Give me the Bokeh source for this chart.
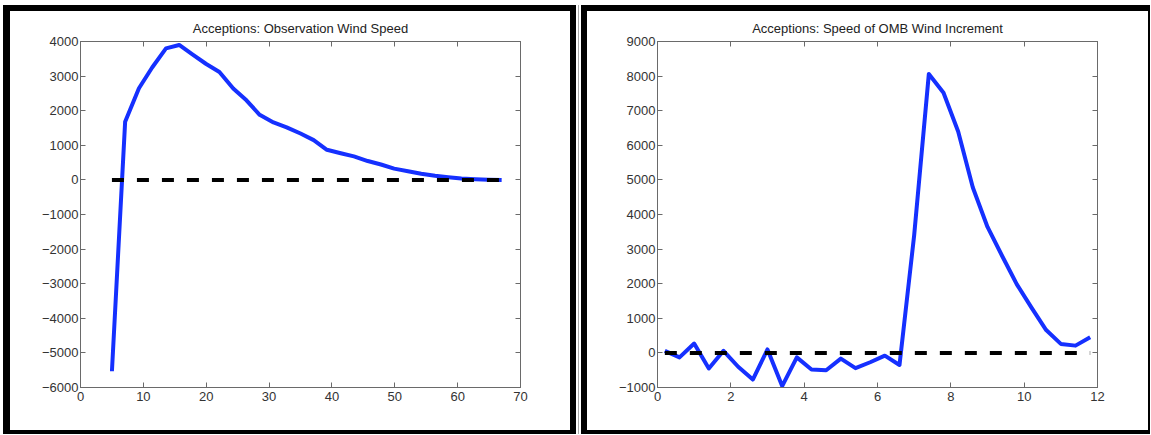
from bokeh.plotting import figure
from bokeh.layouts import row
from bokeh.models import LinearAxis, FixedTicker, CustomJSTickFormatter, Range1d
from bokeh.embed import file_html
from bokeh.resources import INLINE

# ---- Data: left panel (Observation Wind Speed) ----
obs_speed = [5.0, 7.1, 9.3, 11.4, 13.6, 15.7, 17.8, 20.0, 22.1, 24.3,
             26.4, 28.5, 30.7, 32.8, 35.0, 37.1, 39.2, 41.4, 43.5, 45.7,
             47.8, 49.9, 52.1, 54.2, 56.4, 58.5, 60.6, 62.8, 64.9, 67.0]
obs_accept = [-5530, 1680, 2650, 3250, 3800, 3900, 3630, 3350, 3120, 2640,
              2300, 1880, 1660, 1520, 1340, 1150, 870, 770, 680, 545,
              445, 325, 250, 178, 118, 78, 42, 20, 6, 0]

# ---- Data: right panel (Speed of OMB Wind Increment) ----
omb_speed = [0.2, 0.6, 1.0, 1.4, 1.8, 2.2, 2.6, 3.0, 3.4, 3.8,
             4.2, 4.6, 5.0, 5.4, 5.8, 6.2, 6.6, 7.0, 7.4, 7.8,
             8.2, 8.6, 9.0, 9.4, 9.8, 10.2, 10.6, 11.0, 11.4, 11.8]
omb_accept = [60, -130, 270, -450, 60, -400, -770, 100, -960, -130,
              -480, -500, -165, -440, -270, -80, -350, 3400, 8060, 7520,
              6400, 4780, 3640, 2800, 1980, 1310, 660, 260, 210, 450]

zero_level = 0

left_title = "Acceptions: Observation Wind Speed"
right_title = "Acceptions: Speed of OMB Wind Increment"
left_xticks = [0, 10, 20, 30, 40, 50, 60, 70]
left_yticks = [-6000, -5000, -4000, -3000, -2000, -1000, 0, 1000, 2000, 3000, 4000]
right_xticks = [0, 2, 4, 6, 8, 10, 12]
right_yticks = [-1000, 0, 1000, 2000, 3000, 4000, 5000, 6000, 7000, 8000, 9000]

FONT = "Liberation Sans"
AX_COL = "#6a6a6a"
TXT_COL = "#333333"
BLUE = "#1530ff"

minus_fmt = "return tick < 0 ? '\\u2212' + Math.abs(tick) : String(tick);"
blank_fmt = "return '';"


def style_axis(ax, ticks, labels=True, standoff=3):
    ax.ticker = FixedTicker(ticks=ticks)
    ax.major_tick_in = 5
    ax.major_tick_out = 0
    ax.minor_tick_line_color = None
    ax.axis_line_color = AX_COL
    ax.major_tick_line_color = AX_COL
    ax.major_label_text_font = FONT
    ax.major_label_text_font_size = "13px"
    ax.major_label_text_color = TXT_COL
    ax.major_label_standoff = standoff
    if labels:
        ax.formatter = CustomJSTickFormatter(code=minus_fmt)
    else:
        ax.formatter = CustomJSTickFormatter(code=blank_fmt)
        ax.major_label_standoff = 0


def make_panel(title, xs, ys, xr, yr, xticks, yticks, width, mbl, mbr, shadow, margin):
    p = figure(width=width, height=429, x_range=Range1d(*xr), y_range=Range1d(*yr),
               output_backend="svg", toolbar_location=None,
               min_border_left=mbl, min_border_right=mbr,
               min_border_top=36, min_border_bottom=47,
               border_fill_color=None, background_fill_color="white",
               outline_line_color=AX_COL, title=title,
               styles={"background-color": "white", "box-shadow": shadow})
    p.margin = margin
    p.title.align = "center"
    p.title.text_font = FONT
    p.title.text_font_size = "13px"
    p.title.text_font_style = "normal"
    p.title.text_color = "#222222"
    p.title.standoff = 12
    p.xgrid.grid_line_color = None
    p.ygrid.grid_line_color = None
    style_axis(p.xaxis[0], xticks, standoff=4)
    style_axis(p.yaxis[0], yticks, standoff=2)
    top = LinearAxis()
    style_axis(top, xticks, labels=False)
    p.add_layout(top, "above")
    right = LinearAxis()
    style_axis(right, yticks, labels=False)
    p.add_layout(right, "right")

    p.line(xs, ys, line_width=4, color=BLUE, line_join="round")
    p.line([min(xs), max(xs)], [zero_level, zero_level], line_width=4,
           color="black", line_dash="12 13")
    return p


left_shadow = ("inset 7px 0 0 0 black, inset -6px 0 0 0 black, "
               "inset 0 6px 0 0 black, inset 0 -4px 0 0 black")
right_shadow = ("inset 1px 0 0 0 white, inset 2px 0 0 0 #a8a8a8, "
                "inset 4px 0 0 0 white, inset 10px 0 0 0 black, "
                "inset -2px 0 0 0 black, "
                "inset 0 6px 0 0 black, inset 0 -4px 0 0 black")

p1 = make_panel(left_title, obs_speed, obs_accept, (0, 70), (-6000, 4000),
                left_xticks, left_yticks, 573, 77, 56, left_shadow, (5, 0, 0, 3))
p2 = make_panel(right_title, omb_speed, omb_accept, (0, 12), (-1000, 9000),
                right_xticks, right_yticks, 573, 80, 53, right_shadow, (5, 0, 0, 1))

layout = row(p1, p2, spacing=0)
open("out.html", "w").write(file_html(layout, INLINE))
